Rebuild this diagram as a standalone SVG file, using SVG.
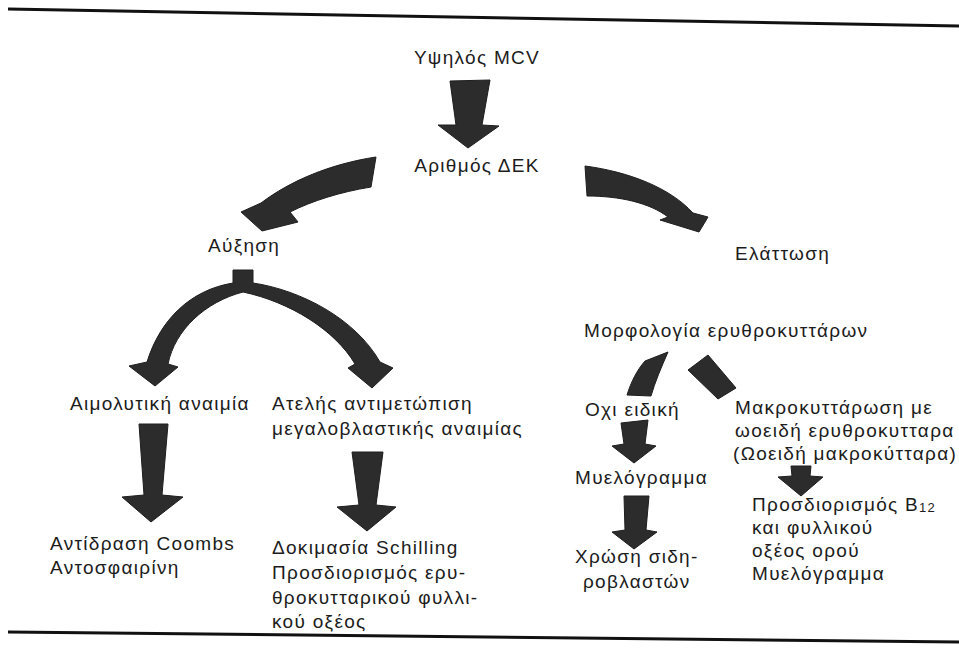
<svg xmlns="http://www.w3.org/2000/svg" width="959" height="654" viewBox="0 0 959 654">
  <style>
    .t { font-family: "Liberation Sans", "DejaVu Sans", sans-serif; font-size: 19px; letter-spacing: 1.3px; fill: #1c1c1c; }
    .c { text-anchor: middle; }
    .ar { fill: #2c2c2c; stroke: #1e1e1e; stroke-width: 1; stroke-linejoin: round; }
    .rule { stroke: #111; stroke-width: 3; fill: none; }
  </style>
  <rect width="959" height="654" fill="#ffffff"/>

  <!-- page rules -->
  <line class="rule" x1="8" y1="9" x2="959" y2="26"/>
  <line class="rule" x1="8" y1="632" x2="959" y2="642"/>

  <!-- connectors (block arrows) -->
  <g id="connectors">
    <polygon class="ar" points="450,81 490,80 482,125 499,126 468,148 438,125 456,125"/>
    <path class="ar" d="M376,157 L371,187 C340,192 312,201 290,212 L298,222 L262,231 L241,212 L261,203 C290,181 330,164 376,157 Z"/>
    <path class="ar" d="M585,166 C630,172 670,188 693,213 L708,217 L699,232 L660,220 L668,217 C650,203 620,196 587,196 Z"/>
    <path class="ar" d="M233,270 L253,270 L253,283 C300,290 355,318 380,362 L393,368 L372,388 L348,368 L355,364 C335,330 290,302 243,292 C205,302 175,330 168,364 L178,367 L155,386 L129,366 L147,362 C160,320 190,290 233,283 Z"/>
    <polygon class="ar" points="139,424 168,424 162,495 183,497 151,522 122,497 144,495"/>
    <polygon class="ar" points="352,452 383,452 376,505 396,507 367,531 337,507 359,505"/>
    <path class="ar" d="M645,361 L668,352 C661,368 655,382 651,396 L627,395 C631,382 637,370 645,361 Z"/>
    <polygon class="ar" points="688,370 708,355 736,388 718,399"/>
    <polygon class="ar" points="621,423 648,420 645,444 656,446 634,463 612,446 624,444"/>
    <polygon class="ar" points="624,496 649,496 646,530 657,532 634,549 612,532 625,530"/>
    <polygon class="ar" points="791,466 811,466 810,476 823,477 801,496 778,477 792,476"/>
  </g>

  <g id="n-mcv"><text class="t c" x="477" y="64">Υψηλός MCV</text></g>
  <g id="n-dek"><text class="t c" x="477" y="172">Αριθμός ΔΕΚ</text></g>
  <g id="n-afxisi"><text class="t" x="208" y="252">Αύξηση</text></g>
  <g id="n-elattosi"><text class="t" x="735" y="260">Ελάττωση</text></g>

  <g id="n-aimolytiki"><text class="t" x="70" y="410">Αιμολυτική αναιμία</text></g>
  <g id="n-ateles">
    <text class="t" x="272" y="410">Ατελής αντιμετώπιση</text>
    <text class="t" x="272" y="435">μεγαλοβλαστικής αναιμίας</text>
  </g>
  <g id="n-coombs">
    <text class="t" x="50" y="550">Αντίδραση Coombs</text>
    <text class="t" x="50" y="574">Αντοσφαιρίνη</text>
  </g>
  <g id="n-schilling">
    <text class="t" x="272" y="554">Δοκιμασία Schilling</text>
    <text class="t" x="272" y="579">Προσδιορισμός ερυ-</text>
    <text class="t" x="272" y="604">θροκυτταρικού φυλλι-</text>
    <text class="t" x="272" y="628">κού οξέος</text>
  </g>

  <g id="n-morfologia"><text class="t" x="584" y="337">Μορφολογία ερυθροκυττάρων</text></g>
  <g id="n-ochi"><text class="t" x="585" y="416">Οχι ειδική</text></g>
  <g id="n-myelogramma"><text class="t" x="575" y="484">Μυελόγραμμα</text></g>
  <g id="n-chrosi">
    <text class="t" x="575" y="563">Χρώση σιδη-</text>
    <text class="t" x="583" y="588">ροβλαστών</text>
  </g>
  <g id="n-makro">
    <text class="t" x="735" y="414">Μακροκυττάρωση με</text>
    <text class="t" x="735" y="437">ωοειδή ερυθροκυτταρα</text>
    <text class="t" x="733" y="460">(Ωοειδή μακροκύτταρα)</text>
  </g>
  <g id="n-b12">
    <text class="t" x="752" y="511">Προσδιορισμός B<tspan font-size="13" dy="1">12</tspan></text>
    <text class="t" x="752" y="534">και φυλλικού</text>
    <text class="t" x="752" y="557">οξέος ορού</text>
    <text class="t" x="752" y="580">Μυελόγραμμα</text>
  </g>
</svg>
